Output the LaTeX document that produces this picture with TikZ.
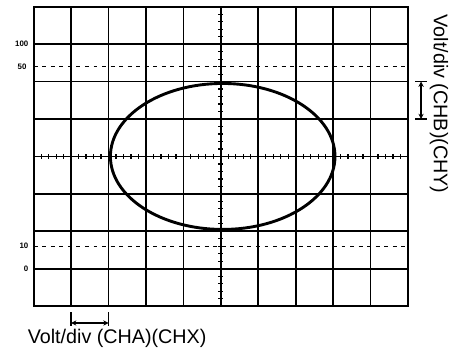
\documentclass[tikz,border=0pt]{standalone}
\usepackage{fontspec}
\setmainfont{Liberation Sans}
\usetikzlibrary{arrows.meta,positioning}
\tikzset{
  gridline/.style={line width=1.3pt,black},
  scaletick/.style={line width=0.9pt,black},
  levelline/.style={line width=0.9pt,dash pattern=on 3pt off 3.5pt},
  levellabel/.style={font=\fontsize{6}{7}\selectfont\bfseries,anchor=east,inner sep=1pt},
  divbar/.style={line width=1pt},
  divarrow/.style={line width=1pt,{Stealth[length=4pt,width=4pt]}-{Stealth[length=4pt,width=4pt]}},
  divlabel/.style={font=\fontsize{15}{17}\selectfont,inner sep=0pt}
}
\begin{document}
\begin{tikzpicture}[x=1cm,y=1cm]
  \useasboundingbox (-0.9,-1.28) rectangle (11.15,8.18);
  % Screen grid (10 x 8 divisions)
  \foreach \i in {0,...,10}
    \draw[gridline] (\i,0) -- (\i,8);
  \foreach \j in {0,...,8}
    \draw[gridline] (0,\j) -- (10,\j);
  \draw[line width=1.5pt] (0,0) rectangle (10,8);
  % Center axes with minor ticks
  \foreach \t in {0.2,0.4,...,9.9}
    \draw[scaletick] (\t,3.94) -- (\t,4.06);
  \foreach \t in {0.2,0.4,...,7.9}
    \draw[scaletick] (4.93,\t) -- (5.07,\t);
  % Rise time levels
  \draw[levelline] (0,6.4) -- (10,6.4);
  \draw[levelline] (0,1.6) -- (10,1.6);
  \node[levellabel] (l100) at (-0.1,7) {100};
  \node[levellabel] (l90) at (-0.15,6.4) {50};
  \node[levellabel] (l10) at (-0.1,1.6) {10};
  \node[levellabel] (l0) at (-0.1,1) {0};
  % Lissajous figure
  \draw[line width=2.2pt] (5.05,4) ellipse [x radius=3,y radius=1.95];
  % Horizontal division (CHA)
  \coordinate (ha) at (1,-0.45);
  \coordinate (hb) at (2,-0.45);
  \draw[divbar] (1,-0.16) -- (1,-0.54);
  \draw[divbar] (2,-0.16) -- (2,-0.54);
  \draw[divarrow] (ha) -- (hb);
  \node[divlabel] (xlabel) at (2.23,-0.87) {Volt/div (CHA)(CHX)};
  % Vertical division (CHB)
  \coordinate (va) at (10.35,6);
  \coordinate (vb) at (10.35,5);
  \draw[divbar] (10.2,6) -- (10.5,6);
  \draw[divbar] (10.2,5) -- (10.5,5);
  \draw[divarrow] (va) -- (vb);
  \node[divlabel,rotate=-90] (ylabel) at (10.83,5.4) {Volt/div (CHB)(CHY)};
\end{tikzpicture}
\end{document}
